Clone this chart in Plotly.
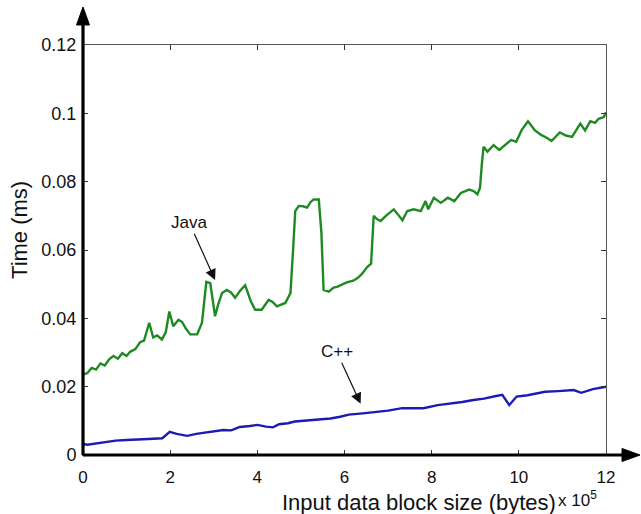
import plotly.graph_objects as go

# ---- data (x in units of 1e5 bytes, time in ms) ----
java_x = [0.00, 0.10, 0.20, 0.30, 0.40, 0.50, 0.60, 0.70, 0.80, 0.90, 1.00, 1.08, 1.20, 1.31, 1.40,
          1.52, 1.61, 1.70, 1.81, 1.90, 1.98, 2.07, 2.19, 2.27, 2.36, 2.46, 2.62, 2.73, 2.83, 2.92,
          3.03, 3.10, 3.19, 3.30, 3.40, 3.49, 3.60, 3.72, 3.85, 3.95, 4.10, 4.26, 4.35, 4.45, 4.64,
          4.76, 4.82, 4.87, 4.95, 5.05, 5.14, 5.22, 5.29, 5.41, 5.47, 5.52, 5.64, 5.75, 5.83, 5.95,
          6.05, 6.20, 6.30, 6.40, 6.52, 6.61, 6.64, 6.67, 6.75, 6.83, 6.95, 7.05, 7.13, 7.22, 7.33,
          7.44, 7.59, 7.75, 7.86, 7.92, 8.05, 8.21, 8.37, 8.52, 8.67, 8.86, 8.97, 9.05, 9.11, 9.15,
          9.19, 9.28, 9.42, 9.55, 9.68, 9.82, 9.94, 10.06, 10.21, 10.37, 10.52, 10.62, 10.75, 10.94,
          11.08, 11.22, 11.41, 11.52, 11.64, 11.75, 11.83, 11.95, 12.00]
java_y = [0.0235, 0.0240, 0.0255, 0.0250, 0.0268, 0.0262, 0.0280, 0.0290, 0.0282, 0.0298, 0.0290,
          0.0302, 0.0310, 0.0330, 0.0335, 0.0387, 0.0344, 0.0350, 0.0338, 0.0360, 0.0420, 0.0377,
          0.0396, 0.0390, 0.0370, 0.0353, 0.0353, 0.0387, 0.0507, 0.0503, 0.0406, 0.0440, 0.0474,
          0.0483, 0.0475, 0.0460, 0.0480, 0.0497, 0.0450, 0.0425, 0.0425, 0.0454, 0.0448, 0.0435,
          0.0445, 0.0474, 0.0600, 0.0714, 0.0729, 0.0728, 0.0724, 0.0740, 0.0748, 0.0748, 0.0650,
          0.0483, 0.0478, 0.0490, 0.0492, 0.0500, 0.0505, 0.0510, 0.0518, 0.0530, 0.0550, 0.0560,
          0.0620, 0.0700, 0.0690, 0.0685, 0.0700, 0.0712, 0.0719, 0.0705, 0.0687, 0.0714, 0.0719,
          0.0714, 0.0743, 0.0719, 0.0753, 0.0738, 0.0753, 0.0743, 0.0767, 0.0777, 0.0772, 0.0763,
          0.0782, 0.0850, 0.0902, 0.0888, 0.0907, 0.0893, 0.0908, 0.0922, 0.0917, 0.0950, 0.0977,
          0.0950, 0.0936, 0.0930, 0.0919, 0.0944, 0.0935, 0.0931, 0.0970, 0.0950, 0.0977, 0.0972,
          0.0984, 0.0989, 0.1003]

cpp_x = [0.00, 0.03, 0.10, 0.30, 0.50, 0.75, 1.00, 1.20, 1.50, 1.82, 1.99, 2.15, 2.39, 2.60, 2.90,
         3.22, 3.40, 3.60, 3.83, 4.00, 4.20, 4.36, 4.50, 4.70, 4.86, 5.10, 5.40, 5.68, 5.90, 6.10,
         6.42, 6.70, 7.00, 7.32, 7.60, 7.81, 8.14, 8.40, 8.70, 8.96, 9.20, 9.45, 9.62, 9.78, 9.95,
         10.20, 10.60, 10.90, 11.26, 11.43, 11.70, 12.00]
cpp_y = [0.0025, 0.0032, 0.0030, 0.0034, 0.0037, 0.0042, 0.0044, 0.0046, 0.0047, 0.0049, 0.0068,
         0.0062, 0.0056, 0.0062, 0.0068, 0.0073, 0.0072, 0.0082, 0.0085, 0.0088, 0.0083, 0.0081,
         0.0090, 0.0093, 0.0098, 0.0100, 0.0103, 0.0107, 0.0112, 0.0118, 0.0122, 0.0125, 0.0130,
         0.0137, 0.0138, 0.0137, 0.0146, 0.0150, 0.0155, 0.0161, 0.0165, 0.0172, 0.0176, 0.0146,
         0.0171, 0.0175, 0.0185, 0.0187, 0.0190, 0.0182, 0.0193, 0.0200]

x_ticks = [0, 2, 4, 6, 8, 10, 12]
x_tick_labels = ["0", "2", "4", "6", "8", "10", "12"]
y_ticks = [0, 0.02, 0.04, 0.06, 0.08, 0.10, 0.12]
y_tick_labels = ["0", "0.02", "0.04", "0.06", "0.08", "0.1", "0.12"]

x_title = "Input data block size (bytes)"
x_exp = "x 10<sup>5</sup>"
y_title = "Time (ms)"

# annotation (label, text position, arrow head)
labels = [
    ("Java", (2.44, 0.0680), (3.03, 0.0512)),
    ("C++", (5.82, 0.0302), (6.37, 0.0150)),
]

FONT = "Liberation Sans, Arial, Helvetica, sans-serif"

fig = go.Figure()
fig.add_trace(go.Scatter(x=java_x, y=java_y, mode="lines",
                         line=dict(color="#1e8a22", width=2.4), showlegend=False))
fig.add_trace(go.Scatter(x=cpp_x, y=cpp_y, mode="lines",
                         line=dict(color="#1c1cb4", width=2.4), showlegend=False))

annotations = []
for text, tpos, head in labels:
    annotations.append(dict(x=head[0], y=head[1], ax=tpos[0], ay=tpos[1],
                            xref="x", yref="y", axref="x", ayref="y", text=text,
                            font=dict(family=FONT, size=17, color="#111"),
                            showarrow=True, arrowhead=2, arrowsize=1.8, arrowwidth=1.2,
                            arrowcolor="#111", standoff=0))

annotations += [
    dict(x=0.6434, y=-0.115, xref="paper", yref="paper", text=x_title, showarrow=False,
         xanchor="center", yanchor="middle", font=dict(family=FONT, size=22, color="#111")),
    dict(x=0.9455, y=-0.108, xref="paper", yref="paper", text=x_exp, showarrow=False,
         xanchor="center", yanchor="middle", font=dict(family=FONT, size=17, color="#111")),
    dict(x=-0.1205, y=0.5488, xref="paper", yref="paper", text=y_title, showarrow=False,
         textangle=-90, xanchor="center", yanchor="middle",
         font=dict(family=FONT, size=22, color="#111")),
]

# axis decorations: thick left/bottom axes with arrowheads
shapes = [
    dict(type="line", xref="paper", yref="paper", x0=0, y0=0, x1=0, y1=1.05,
         line=dict(color="black", width=3.2), layer="above"),
    dict(type="line", xref="paper", yref="paper", x0=0, y0=0, x1=1.032, y1=0,
         line=dict(color="black", width=3.2), layer="above"),
    dict(type="path", xref="paper", yref="paper",
         path="M -0.0124,1.0488 L 0.0124,1.0488 L 0,1.0927 Z",
         fillcolor="black", line=dict(color="black", width=1), layer="above"),
    dict(type="path", xref="paper", yref="paper",
         path="M 1.0306,-0.0159 L 1.0306,0.0159 L 1.065,0 Z",
         fillcolor="black", line=dict(color="black", width=1), layer="above"),
]

fig.update_layout(
    width=641, height=514,
    margin=dict(l=83, r=35, t=45, b=59),
    paper_bgcolor="white", plot_bgcolor="white",
    annotations=annotations, shapes=shapes,
    font=dict(family=FONT, color="#111"),
)
fig.update_xaxes(range=[0, 12], tickvals=x_ticks, ticktext=x_tick_labels,
                 showgrid=False, zeroline=False, showline=True, linecolor="#555", linewidth=1,
                 mirror="allticks", ticks="inside", ticklen=5, tickcolor="#333", tickwidth=1,
                 tickfont=dict(family=FONT, size=17, color="#111"), ticklabelstandoff=7)
fig.update_yaxes(range=[0, 0.12], tickvals=y_ticks, ticktext=y_tick_labels,
                 showgrid=False, zeroline=False, showline=True, linecolor="#555", linewidth=1,
                 mirror="allticks", ticks="inside", ticklen=5, tickcolor="#333", tickwidth=1,
                 tickfont=dict(family=FONT, size=18, color="#111"), ticklabelstandoff=2)

fig.write_html("out.html", config={"displayModeBar": False},
               post_script="document.body.style.margin='0';document.body.style.overflow='hidden';")
